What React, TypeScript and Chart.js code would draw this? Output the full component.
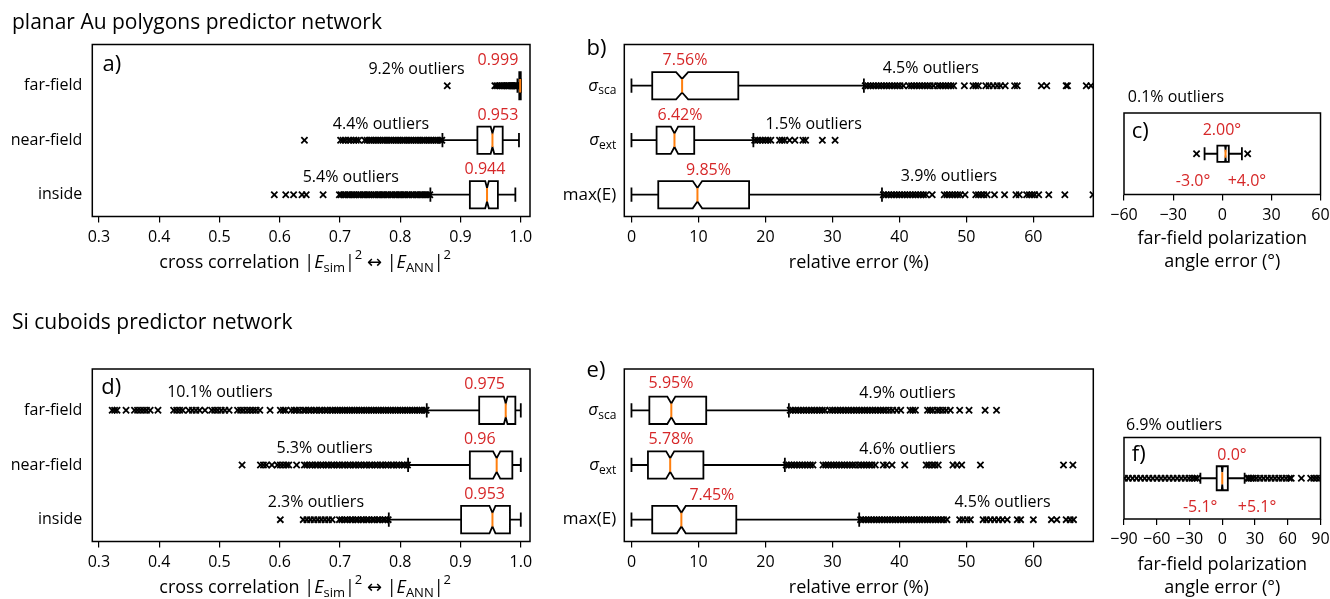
import React, { useEffect, useRef } from 'react';
import { Chart, registerables } from 'chart.js';

Chart.register(...registerables);

const FONT = '"Open Sans", "Noto Sans", "DejaVu Sans", sans-serif';
const RED = '#d62728';
const ORANGE = '#ff7f0e';

// ---------------- data: panel a (planar Au, cross correlation) ----------------
const corrCategories = ['inside', 'near-field', 'far-field'];
const aWhiskerLow = [0.85, 0.87, 0.9945];
const aQ1 = [0.9155, 0.928, 0.9975];
const aMedian = [0.944, 0.953, 0.999];
const aQ3 = [0.962, 0.97, 1.0];
const aWhiskerHigh = [0.991, 0.997, 1.0];
const aNotch = [0.003, 0.003, 0.0003];
const aOutlierShare = ['5.4%', '4.4%', '9.2%'];
const aOutliersInside = [0.591, 0.61, 0.623, 0.637, 0.644, 0.672, 0.699, 0.702, 0.706, 0.709, 0.713, 0.716, 0.72, 0.723, 0.727, 0.731, 0.734, 0.738, 0.741, 0.745, 0.748, 0.752, 0.756, 0.759, 0.763, 0.766, 0.77, 0.773, 0.777, 0.78, 0.784, 0.787, 0.791, 0.794, 0.798, 0.801, 0.805, 0.808, 0.812, 0.815, 0.819, 0.822, 0.826, 0.829, 0.833, 0.836, 0.84, 0.843, 0.846, 0.849];
const aOutliersNear = [0.641, 0.701, 0.705, 0.709, 0.714, 0.718, 0.723, 0.727, 0.731, 0.741, 0.745, 0.749, 0.752, 0.756, 0.76, 0.763, 0.767, 0.771, 0.774, 0.778, 0.782, 0.785, 0.789, 0.793, 0.796, 0.8, 0.804, 0.807, 0.811, 0.815, 0.818, 0.822, 0.826, 0.829, 0.833, 0.837, 0.84, 0.844, 0.848, 0.851, 0.855, 0.859, 0.862, 0.866, 0.869];
const aOutliersFar = [0.878, 0.957, 0.96, 0.963, 0.966, 0.969, 0.972, 0.975, 0.977, 0.979, 0.981, 0.983, 0.985, 0.987, 0.989, 0.99, 0.991, 0.992, 0.993, 0.994];

// ---------------- data: panel b (planar Au, relative error) ----------------
const bWhiskerLow = [0, 0, 0];
const bQ1 = [4.0, 3.75, 3.1];
const bMedian = [9.85, 6.42, 7.56];
const bQ3 = [17.56, 9.37, 15.95];
const bWhiskerHigh = [37.4, 18.2, 34.7];
const bNotch = [0.7, 0.55, 0.9];
const bOutlierShare = ['3.9%', '1.5%', '4.5%'];
const bOutliersMaxE = [37.6, 38.0, 38.4, 38.8, 39.2, 39.6, 40.0, 40.4, 40.8, 41.2, 41.6, 42.0, 42.4, 42.8, 43.2, 43.6, 44.0, 44.9, 46.7, 47.1, 47.5, 47.9, 48.3, 48.7, 49.1, 49.8, 51.4, 51.8, 52.2, 52.6, 53.1, 54.2, 55.7, 57.4, 57.9, 59.0, 59.4, 59.8, 60.2, 60.8, 62.3, 64.7, 68.9];
const bOutliersExt = [18.4, 18.8, 19.2, 19.6, 20.0, 20.4, 20.8, 22.1, 22.5, 22.9, 23.6, 24.4, 25.6, 26.0, 28.5, 30.4];
const bOutliersSca = [34.9, 35.3, 35.7, 36.1, 36.5, 36.9, 37.3, 37.7, 38.1, 38.5, 38.9, 39.3, 39.7, 40.1, 40.6, 41.4, 41.8, 42.2, 42.6, 43.0, 43.4, 43.8, 44.2, 44.6, 45.1, 45.7, 46.1, 46.5, 46.9, 47.3, 47.7, 48.1, 49.7, 51.0, 51.4, 51.8, 52.9, 53.4, 54.0, 54.6, 55.1, 55.8, 57.2, 57.6, 61.2, 62.0, 64.9, 65.1, 67.9, 68.6];

// ---------------- data: panel c (planar Au, polarization angle) ----------------
const cWhiskerLow = [-10.8];
const cQ1 = [-3.0];
const cMedian = [2.0];
const cQ3 = [4.0];
const cWhiskerHigh = [12.0];
const cNotch = [0.3];
const cOutlierShare = ['0.1%'];
const cOutliers = [-15.7, 15.5];

// ---------------- data: panel d (Si cuboids, cross correlation) ----------------
const dWhiskerLow = [0.781, 0.813, 0.844];
const dQ1 = [0.901, 0.9155, 0.931];
const dMedian = [0.953, 0.96, 0.975];
const dQ3 = [0.982, 0.986, 0.991];
const dWhiskerHigh = [1.0, 1.0, 1.0];
const dNotch = [0.005, 0.006, 0.003];
const dOutlierShare = ['2.3%', '5.3%', '10.1%'];
const dOutliersInside = [0.601, 0.639, 0.645, 0.651, 0.657, 0.663, 0.669, 0.675, 0.681, 0.687, 0.699, 0.703, 0.708, 0.712, 0.717, 0.721, 0.726, 0.73, 0.735, 0.739, 0.744, 0.748, 0.753, 0.757, 0.762, 0.766, 0.771, 0.775, 0.78];
const dOutliersNear = [0.5375, 0.568, 0.573, 0.578, 0.587, 0.596, 0.601, 0.606, 0.611, 0.615, 0.628, 0.641, 0.645, 0.65, 0.654, 0.659, 0.663, 0.668, 0.672, 0.677, 0.681, 0.686, 0.69, 0.695, 0.699, 0.704, 0.708, 0.713, 0.717, 0.722, 0.726, 0.731, 0.735, 0.74, 0.744, 0.749, 0.753, 0.758, 0.762, 0.767, 0.771, 0.776, 0.78, 0.785, 0.789, 0.794, 0.798, 0.803, 0.807, 0.812];
const dOutliersFar = [0.322, 0.326, 0.33, 0.345, 0.359, 0.364, 0.369, 0.374, 0.379, 0.385, 0.398, 0.424, 0.429, 0.434, 0.439, 0.449, 0.455, 0.461, 0.467, 0.476, 0.487, 0.492, 0.497, 0.503, 0.509, 0.516, 0.53, 0.535, 0.54, 0.546, 0.551, 0.556, 0.561, 0.567, 0.584, 0.601, 0.606, 0.61, 0.619, 0.624, 0.628, 0.633, 0.639, 0.643, 0.648, 0.652, 0.657, 0.661, 0.666, 0.67, 0.675, 0.679, 0.684, 0.688, 0.692, 0.696, 0.7, 0.704, 0.708, 0.712, 0.716, 0.72, 0.724, 0.728, 0.732, 0.736, 0.74, 0.744, 0.748, 0.752, 0.756, 0.76, 0.764, 0.768, 0.772, 0.776, 0.78, 0.784, 0.788, 0.792, 0.796, 0.8, 0.804, 0.808, 0.812, 0.816, 0.82, 0.824, 0.828, 0.832, 0.836, 0.84, 0.843];

// ---------------- data: panel e (Si cuboids, relative error) ----------------
const eWhiskerLow = [0, 0, 0];
const eQ1 = [3.1, 2.46, 2.67];
const eMedian = [7.45, 5.78, 5.95];
const eQ3 = [15.65, 10.74, 11.16];
const eWhiskerHigh = [34.0, 22.9, 23.5];
const eNotch = [0.65, 0.6, 0.6];
const eOutlierShare = ['4.5%', '4.6%', '4.9%'];
const eOutliersMaxE = [34.2, 34.6, 35.0, 35.4, 35.8, 36.2, 36.6, 37.0, 37.4, 37.8, 38.2, 38.6, 39.0, 39.4, 39.8, 40.2, 40.6, 41.0, 41.4, 41.8, 42.2, 42.6, 43.0, 43.4, 43.8, 44.2, 44.6, 45.0, 45.4, 45.8, 46.2, 46.6, 47.1, 49.0, 49.5, 50.1, 50.6, 52.5, 53.0, 53.6, 54.2, 54.8, 55.4, 56.1, 57.6, 58.1, 60.0, 62.7, 63.5, 64.9, 65.5, 66.0];
const eOutliersExt = [23.1, 23.5, 23.9, 24.3, 24.7, 25.1, 25.5, 25.9, 26.3, 26.7, 27.1, 28.6, 29.0, 29.4, 29.8, 30.2, 30.6, 31.0, 31.4, 31.8, 32.2, 32.6, 33.0, 33.4, 33.9, 34.3, 34.7, 35.1, 35.5, 35.9, 36.4, 37.6, 38.1, 38.9, 40.8, 44.0, 44.4, 44.9, 45.3, 45.8, 48.0, 48.6, 49.3, 52.1, 64.5, 65.9];
const eOutliersSca = [23.7, 24.1, 24.5, 24.9, 25.3, 25.7, 26.1, 26.5, 26.9, 27.3, 27.7, 28.1, 28.5, 28.9, 29.6, 30.0, 30.4, 30.8, 31.2, 31.6, 32.0, 32.4, 32.8, 33.2, 33.6, 34.0, 34.4, 34.8, 35.2, 35.6, 36.0, 36.4, 36.8, 37.2, 37.6, 38.0, 38.5, 39.0, 39.6, 40.2, 41.6, 42.0, 42.4, 44.2, 44.6, 45.0, 45.6, 46.0, 46.5, 47.0, 47.6, 49.0, 50.4, 52.8, 54.5];

// ---------------- data: panel f (Si cuboids, polarization angle) ----------------
const fWhiskerLow = [-20.0];
const fQ1 = [-5.1];
const fMedian = [0.0];
const fQ3 = [5.1];
const fWhiskerHigh = [20.5];
const fNotch = [0.5];
const fOutlierShare = ['6.9%'];
const fOutliers = [-89.5, -86.0, -82.2, -78.5, -74.8, -71.0, -67.3, -63.6, -59.8, -56.1, -52.4, -48.7, -45.0, -41.3, -37.6, -34.0, -30.5, -27.5, -25.0, -23.0, 23.2, 24.6, 26.3, 28.4, 31.2, 34.5, 37.9, 41.4, 44.8, 48.3, 51.7, 55.0, 58.4, 61.5, 63.2, 72.5, 81.0, 83.8, 86.4, 89.2];

// ---------------- tick labels ----------------
const corrTicks = [0.3, 0.4, 0.5, 0.6, 0.7, 0.8, 0.9, 1.0];
const corrTickLabels = ['0.3', '0.4', '0.5', '0.6', '0.7', '0.8', '0.9', '1.0'];
const errTicks = [0, 10, 20, 30, 40, 50, 60];
const errTickLabels = ['0', '10', '20', '30', '40', '50', '60'];
const cTicks = [-60, -30, 0, 30, 60];
const cTickLabels = ['\u221260', '\u221230', '0', '30', '60'];
const fTicks = [-90, -60, -30, 0, 30, 60, 90];
const fTickLabels = ['\u221290', '\u221260', '\u221230', '0', '30', '60', '90'];

// ---------------- types & helpers ----------------
type Seg = { t: string; it?: boolean; sub?: boolean; sup?: boolean };
type TextItem = { segs: Seg[]; x: number; y: number; size: number; color: string; align: 'left' | 'center' | 'right' };
type BoxStat = { lo: number; q1: number; med: number; q3: number; hi: number; notch: number };

interface Panel {
  key: string;
  left: number; top: number; width: number; height: number;
  frame: [number, number, number, number];
  xMin: number; xMax: number; yMin: number; yMax: number;
  ticks: number[]; tickLabels: string[];
  rows: Seg[][]; rowGap: number; rowSize: number;
  boxes: BoxStat[];
  outliers: number[][];
  boxHalf: number; capHalf: number;
  texts: TextItem[];
  xlabel: Seg[][]; xlabelOffsets: number[]; xlabelShift: number;
  title?: string;
}

function makeBoxes(lo: number[], q1: number[], med: number[], q3: number[], hi: number[], notch: number[]): BoxStat[] {
  return lo.map((_, i) => ({ lo: lo[i], q1: q1[i], med: med[i], q3: q3[i], hi: hi[i], notch: notch[i] }));
}

function segFont(s: Seg, size: number) {
  const sz = s.sub || s.sup ? Math.round(size * 0.72) : size;
  return `${s.it ? 'italic ' : ''}${sz}px ${FONT}`;
}

function drawRich(ctx: CanvasRenderingContext2D, segs: Seg[], x: number, y: number, size: number, align: string, color: string) {
  ctx.save();
  ctx.fillStyle = color;
  ctx.textBaseline = 'middle';
  ctx.textAlign = 'left';
  const widths = segs.map((s) => { ctx.font = segFont(s, size); return ctx.measureText(s.t).width; });
  const total = widths.reduce((a, b) => a + b, 0);
  let cx = align === 'center' ? x - total / 2 : align === 'right' ? x - total : x;
  segs.forEach((s, i) => {
    ctx.font = segFont(s, size);
    const dy = s.sub ? size * 0.3 : s.sup ? -size * 0.42 : 0;
    ctx.fillText(s.t, cx, y + dy);
    cx += widths[i];
  });
  ctx.restore();
}

const plain = (t: string): Seg[] => [{ t }];
const txt = (t: string, x: number, y: number, color = '#000', size = 16, align: 'left' | 'center' | 'right' = 'center'): TextItem => ({ segs: plain(t), x, y, size, color, align });

const corrRows: Seg[][] = corrCategories.map(plain);
const errRows: Seg[][] = [
  [{ t: 'max(E)' }],
  [{ t: '\u03c3', it: true }, { t: 'ext', sub: true }],
  [{ t: '\u03c3', it: true }, { t: 'sca', sub: true }],
];
const corrXLabel: Seg[][] = [[
  { t: 'cross correlation ' }, { t: '|' }, { t: 'E', it: true }, { t: 'sim', sub: true }, { t: '|' }, { t: '2', sup: true },
  { t: ' \u2194 ' }, { t: '|' }, { t: 'E', it: true }, { t: 'ANN', sub: true }, { t: '|' }, { t: '2', sup: true },
]];
const errXLabel: Seg[][] = [plain('relative error (%)')];
const angXLabel: Seg[][] = [plain('far-field polarization'), plain('angle error (\u00b0)')];

// ---------------- layout (positions only) ----------------
const aMedPos = [[0.9406, 1.472], [0.962, 2.45], [0.962, 3.472]];
const aOutPos = [[0.718, 1.312], [0.768, 2.297], [0.827, 3.306]];
const bMedPos = [[11.5, 1.453], [7.24, 2.462], [7.99, 3.472]];
const bOutPos = [[47.4, 1.33], [27.2, 2.297], [44.7, 3.325]];
const dMedPos = [[0.94, 1.46], [0.932, 2.464], [0.94, 3.481]];
const dOutPos = [[0.66, 1.321], [0.6745, 2.301], [0.5007, 3.321]];
const eMedPos = [[12.0, 1.444], [5.9, 2.47], [5.9, 3.499]];
const eOutPos = [[55.4, 1.31], [41.2, 2.29], [41.2, 3.31]];

function rowTexts(meds: number[], fmt: (v: number) => string, medPos: number[][], shares: string[], outPos: number[][]): TextItem[] {
  const out: TextItem[] = [];
  meds.forEach((m, i) => {
    out.push(txt(fmt(m), medPos[i][0], medPos[i][1], RED));
    out.push(txt(`${shares[i]} outliers`, outPos[i][0], outPos[i][1]));
  });
  return out;
}

const topY = 44.5, topB = 216.5, botY = 369, botB = 541.5;

const panels: Panel[] = [
  {
    key: 'a', left: 0, top: 0, width: 560, height: 300,
    frame: [92.3, topY, 530, topB],
    xMin: 0.289, xMax: 1.0153, yMin: 0.6, yMax: 3.756,
    ticks: corrTicks, tickLabels: corrTickLabels,
    rows: corrRows, rowGap: 10, rowSize: 16,
    boxes: makeBoxes(aWhiskerLow, aQ1, aMedian, aQ3, aWhiskerHigh, aNotch),
    outliers: [aOutliersInside, aOutliersNear, aOutliersFar],
    boxHalf: 0.25, capHalf: 0.13,
    texts: [txt('a)', 0.306, 3.38, '#000', 22, 'left'), ...rowTexts(aMedian, (v) => String(v), aMedPos, aOutlierShare, aOutPos)],
    xlabel: corrXLabel, xlabelOffsets: [46.5], xlabelShift: -6,
    title: 'planar Au polygons predictor network',
  },
  {
    key: 'b', left: 560, top: 0, width: 540, height: 300,
    frame: [624.3, topY, 1093.3, topB],
    xMin: -1.07, xMax: 68.95, yMin: 0.6, yMax: 3.756,
    ticks: errTicks, tickLabels: errTickLabels,
    rows: errRows, rowGap: 8, rowSize: 17,
    boxes: makeBoxes(bWhiskerLow, bQ1, bMedian, bQ3, bWhiskerHigh, bNotch),
    outliers: [bOutliersMaxE, bOutliersExt, bOutliersSca],
    boxHalf: 0.25, capHalf: 0.13,
    texts: [txt('b)', -6.7, 3.67, '#000', 22, 'left'), ...rowTexts(bMedian, (v) => `${v}%`, bMedPos, bOutlierShare, bOutPos)],
    xlabel: errXLabel, xlabelOffsets: [46.5], xlabelShift: 0,
  },
  {
    key: 'c', left: 1095, top: 60, width: 235, height: 240,
    frame: [1124, 113, 1320.5, 194.5],
    xMin: -60, xMax: 60, yMin: 0.5, yMax: 1.5,
    ticks: cTicks, tickLabels: cTickLabels,
    rows: [], rowGap: 8, rowSize: 16,
    boxes: makeBoxes(cWhiskerLow, cQ1, cMedian, cQ3, cWhiskerHigh, cNotch),
    outliers: [cOutliers],
    boxHalf: 0.1, capHalf: 0.08,
    texts: [
      txt('c)', -55.3, 1.27, '#000', 22, 'left'),
      txt(`${cOutlierShare[0]} outliers`, -28.3, 1.693),
      txt(`${cMedian[0].toFixed(2)}\u00b0`, -0.18, 1.283, RED),
      txt(`${cQ1[0].toFixed(1)}\u00b0`, -17.8, 0.657, RED),
      txt(`+${cQ3[0].toFixed(1)}\u00b0`, 15.1, 0.657, RED),
    ],
    xlabel: angXLabel, xlabelOffsets: [44.5, 67.5], xlabelShift: 0,
  },
  {
    key: 'd', left: 0, top: 300, width: 560, height: 299,
    frame: [92.3, botY, 530, botB],
    xMin: 0.289, xMax: 1.0153, yMin: 0.6, yMax: 3.756,
    ticks: corrTicks, tickLabels: corrTickLabels,
    rows: corrRows, rowGap: 10, rowSize: 16,
    boxes: makeBoxes(dWhiskerLow, dQ1, dMedian, dQ3, dWhiskerHigh, dNotch),
    outliers: [dOutliersInside, dOutliersNear, dOutliersFar],
    boxHalf: 0.25, capHalf: 0.13,
    texts: [txt('d)', 0.304, 3.42, '#000', 22, 'left'), ...rowTexts(dMedian, (v) => String(v), dMedPos, dOutlierShare, dOutPos)],
    xlabel: corrXLabel, xlabelOffsets: [46.5], xlabelShift: -6,
    title: 'Si cuboids predictor network',
  },
  {
    key: 'e', left: 560, top: 300, width: 540, height: 299,
    frame: [624.3, botY, 1093.3, botB],
    xMin: -1.07, xMax: 68.95, yMin: 0.6, yMax: 3.756,
    ticks: errTicks, tickLabels: errTickLabels,
    rows: errRows, rowGap: 8, rowSize: 17,
    boxes: makeBoxes(eWhiskerLow, eQ1, eMedian, eQ3, eWhiskerHigh, eNotch),
    outliers: [eOutliersMaxE, eOutliersExt, eOutliersSca],
    boxHalf: 0.25, capHalf: 0.13,
    texts: [txt('e)', -6.7, 3.72, '#000', 22, 'left'), ...rowTexts(eMedian, (v) => `${v}%`, eMedPos, eOutlierShare, eOutPos)],
    xlabel: errXLabel, xlabelOffsets: [46.5], xlabelShift: 0,
  },
  {
    key: 'f', left: 1095, top: 390, width: 235, height: 209,
    frame: [1124, 437.5, 1320.5, 519],
    xMin: -90, xMax: 90, yMin: 0.5, yMax: 1.5,
    ticks: fTicks, tickLabels: fTickLabels,
    rows: [], rowGap: 8, rowSize: 16,
    boxes: makeBoxes(fWhiskerLow, fQ1, fMedian, fQ3, fWhiskerHigh, fNotch),
    outliers: [fOutliers],
    boxHalf: 0.147, capHalf: 0.068,
    texts: [
      txt('f)', -82.9, 1.285, '#000', 22, 'left'),
      txt(`${fOutlierShare[0]} outliers`, -44.1, 1.653),
      txt(`${fMedian[0].toFixed(1)}\u00b0`, 8.9, 1.285, RED),
      txt(`${fQ1[0].toFixed(1)}\u00b0`, -20.2, 0.644, RED),
      txt(`+${fQ3[0].toFixed(1)}\u00b0`, 31.9, 0.644, RED),
    ],
    xlabel: angXLabel, xlabelOffsets: [45.5, 68.5], xlabelShift: 0,
  },
];

function PanelChart({ p }: { p: Panel }) {
  const ref = useRef<HTMLCanvasElement | null>(null);
  useEffect(() => {
    if (!ref.current) return;
    const padTop = p.frame[1] - p.top;
    const padRight = p.left + p.width - p.frame[2];
    const yWidth = p.frame[0] - p.left;
    const xHeight = p.top + p.height - p.frame[3];

    const boxPlugin = {
      id: 'boxes_' + p.key,
      afterDatasetsDraw(chart: any) {
        const ctx: CanvasRenderingContext2D = chart.ctx;
        const xs = chart.scales.x;
        const ys = chart.scales.y;
        const X = (v: number) => xs.getPixelForValue(v);
        ctx.save();
        const ca = chart.chartArea;
        ctx.beginPath();
        ctx.rect(ca.left, ca.top, ca.right - ca.left, ca.bottom - ca.top);
        ctx.clip();
        p.boxes.forEach((b, i) => {
          const pos = i + 1;
          const yc = ys.getPixelForValue(pos);
          const hh = Math.abs(ys.getPixelForValue(pos + p.boxHalf) - yc);
          const ch = Math.abs(ys.getPixelForValue(pos + p.capHalf) - yc);
          ctx.strokeStyle = '#000';
          ctx.lineWidth = 1.8;
          ctx.beginPath();
          ctx.moveTo(X(b.lo), yc); ctx.lineTo(X(b.q1), yc);
          ctx.moveTo(X(b.q3), yc); ctx.lineTo(X(b.hi), yc);
          ctx.moveTo(X(b.lo), yc - ch); ctx.lineTo(X(b.lo), yc + ch);
          ctx.moveTo(X(b.hi), yc - ch); ctx.lineTo(X(b.hi), yc + ch);
          ctx.stroke();
          const nlo = X(b.med - b.notch);
          const nhi = X(b.med + b.notch);
          const xm = X(b.med);
          ctx.beginPath();
          ctx.moveTo(X(b.q1), yc - hh);
          ctx.lineTo(nlo, yc - hh);
          ctx.lineTo(xm, yc - hh / 2);
          ctx.lineTo(nhi, yc - hh);
          ctx.lineTo(X(b.q3), yc - hh);
          ctx.lineTo(X(b.q3), yc + hh);
          ctx.lineTo(nhi, yc + hh);
          ctx.lineTo(xm, yc + hh / 2);
          ctx.lineTo(nlo, yc + hh);
          ctx.lineTo(X(b.q1), yc + hh);
          ctx.closePath();
          ctx.stroke();
          ctx.strokeStyle = ORANGE;
          ctx.lineWidth = 2;
          ctx.beginPath();
          ctx.moveTo(xm, yc - hh / 2);
          ctx.lineTo(xm, yc + hh / 2);
          ctx.stroke();
        });
        ctx.restore();
      },
      afterDraw(chart: any) {
        const ctx: CanvasRenderingContext2D = chart.ctx;
        const xs = chart.scales.x;
        const ys = chart.scales.y;
        const ca = chart.chartArea;
        ctx.save();
        ctx.strokeStyle = '#000';
        ctx.lineWidth = 1.5;
        ctx.strokeRect(ca.left, ca.top, ca.right - ca.left, ca.bottom - ca.top);
        ctx.restore();
        p.rows.forEach((segs, i) => {
          drawRich(ctx, segs, ca.left - p.rowGap, ys.getPixelForValue(i + 1), p.rowSize, 'right', '#000');
        });
        p.texts.forEach((t) => {
          drawRich(ctx, t.segs, xs.getPixelForValue(t.x), ys.getPixelForValue(t.y), t.size, t.align, t.color);
        });
        p.xlabel.forEach((segs, i) => {
          drawRich(ctx, segs, (ca.left + ca.right) / 2 + p.xlabelShift, ca.bottom + p.xlabelOffsets[i], 18, 'center', '#000');
        });
        if (p.title) {
          drawRich(ctx, plain(p.title), 12 - p.left, 23.3, 21, 'left', '#000');
        }
      },
    };

    const chart = new Chart(ref.current, {
      type: 'scatter',
      data: {
        datasets: p.outliers.map((vals, i) => ({
          data: vals.map((v) => ({ x: v, y: i + 1 })),
          pointStyle: 'crossRot',
          radius: 4.4,
          borderColor: '#000',
          backgroundColor: '#000',
          borderWidth: 1.8,
          clip: 0,
        })),
      },
      options: {
        responsive: false,
        maintainAspectRatio: false,
        animation: false,
        events: [],
        layout: { padding: { top: padTop, right: padRight, left: 0, bottom: 0 } },
        plugins: { legend: { display: false }, tooltip: { enabled: false } },
        scales: {
          x: {
            type: 'linear',
            min: p.xMin,
            max: p.xMax,
            afterBuildTicks: (s: any) => { s.ticks = p.ticks.map((v) => ({ value: v })); },
            afterFit: (s: any) => { s.height = xHeight; s.paddingLeft = 0; s.paddingRight = 0; },
            ticks: {
              autoSkip: false,
              maxRotation: 0,
              minRotation: 0,
              color: '#000',
              padding: 5,
              font: { family: FONT, size: 16 },
              callback: (_v: any, idx: number) => p.tickLabels[idx],
            },
            grid: { display: true, drawOnChartArea: false, drawTicks: true, tickLength: 6, color: '#000', lineWidth: 1.2 },
            border: { display: false },
          },
          y: {
            type: 'linear',
            min: p.yMin,
            max: p.yMax,
            ticks: { display: false },
            grid: { display: false },
            border: { display: false },
            afterFit: (s: any) => { s.width = yWidth; s.paddingTop = 0; s.paddingBottom = 0; },
          },
        },
      } as any,
      plugins: [boxPlugin],
    });
    return () => chart.destroy();
  }, [p]);
  return (
    <canvas
      ref={ref}
      width={p.width}
      height={p.height}
      style={{ position: 'absolute', left: p.left, top: p.top, width: p.width, height: p.height }}
    />
  );
}

export default function App() {
  return (
    <div style={{ position: 'absolute', left: 0, top: 0, width: 1330, height: 599, background: '#fff', overflow: 'hidden' }}>
      {panels.map((p) => (
        <PanelChart key={p.key} p={p} />
      ))}
    </div>
  );
}
